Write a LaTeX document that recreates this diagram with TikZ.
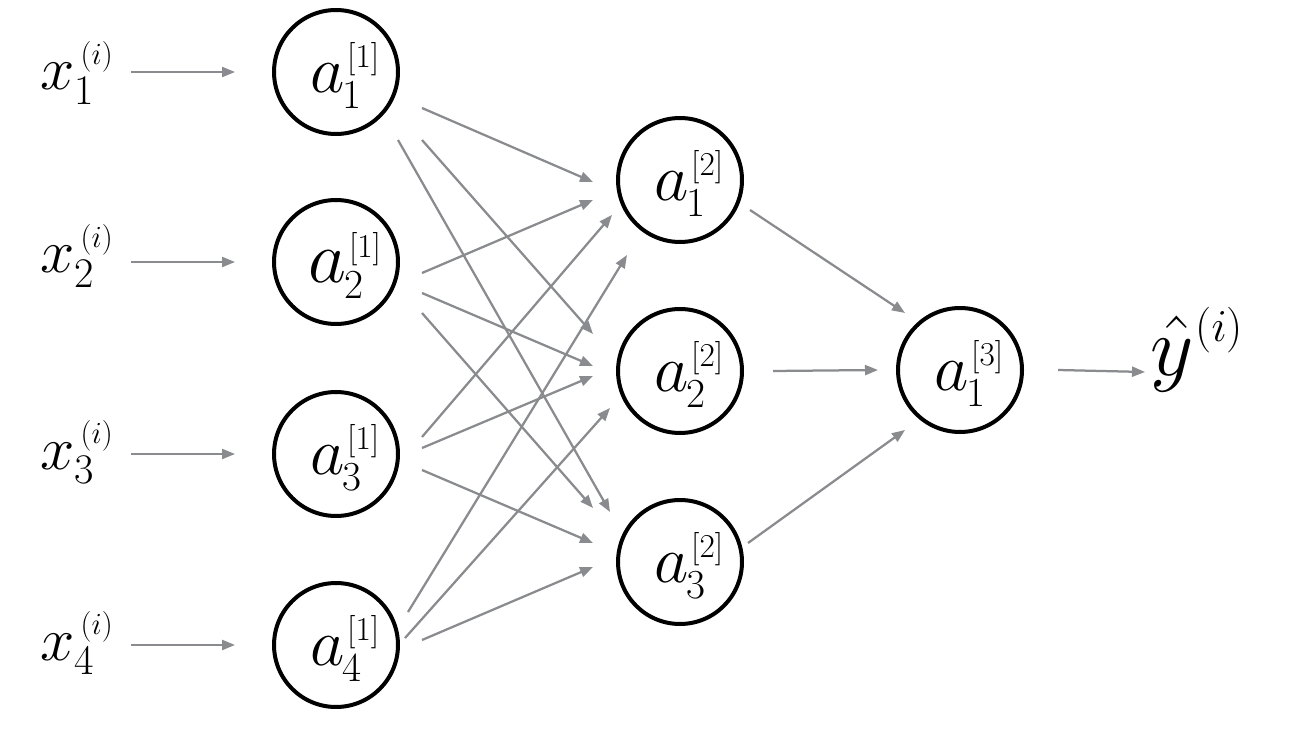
\RequirePackage{fix-cm}
\documentclass[tikz,border=0pt]{standalone}
\usepackage{fontspec}
\usetikzlibrary{arrows.meta,calc,shapes.geometric}
\definecolor{edgegray}{RGB}{137,139,142}

% neuron label: letter with subscript and bracketed superscript
\newcommand{\nlab}[4][38pt]{%
  \sbox0{\fontsize{19pt}{19pt}\selectfont #4}%
  \sbox2{\fontsize{23.5pt}{23.5pt}\selectfont #3}%
  {\fontsize{#1}{#1}\selectfont$#2$}%
  \rlap{\raisebox{14.5pt}{\kern 1.5pt\usebox0}}%
  \raisebox{-9pt}{\kern -1pt\usebox2}%
  \hspace{\dimexpr\wd0+2.5pt-\wd2\relax}}
% input label x_k^(i)
\newcommand{\xlab}[1]{%
  \sbox0{\fontsize{17.5pt}{17.5pt}\selectfont($i$)}%
  \sbox2{\fontsize{24pt}{24pt}\selectfont #1}%
  {\fontsize{35pt}{35pt}\selectfont$x$}%
  \rlap{\raisebox{14.5pt}{\kern 3.5pt\usebox0}}%
  \raisebox{-8.5pt}{\usebox2}%
  \hspace{\dimexpr\wd0+3.5pt-\wd2\relax}}

\tikzset{
  neuron/.style={circle, draw=black, line width=0.08cm, minimum size=2.48cm,
    inner sep=0pt, text height=30pt, text depth=6.2pt},
  arr/.style={draw=edgegray, line width=0.045cm, -{Triangle[length=0.26cm,width=0.2cm]}},
  inlab/.style={anchor=base west, inner sep=0pt},
}

\begin{document}
\begin{tikzpicture}[x=0.02cm,y=-0.02cm]
\fill[white] (0,0) rectangle (1300,746);
\useasboundingbox (0,0) rectangle (1300,746);

% layer 1
\node[neuron] (A1) at (336,72)  {\nlab{a}{1}{[1]}};
\node[neuron] (A2) at (336,262) {\nlab[42pt]{a}{2}{[1]}};
\node[neuron] (A3) at (336,454) {\nlab{a}{3}{[1]}};
\node[neuron] (A4) at (336,645) {\nlab{a}{4}{[1]}};
% layer 2
\node[neuron] (B1) at (680,180) {\nlab{a}{1}{[2]}};
\node[neuron] (B2) at (680,371) {\nlab{a}{2}{[2]}};
\node[neuron] (B3) at (680,562) {\nlab{a}{3}{[2]}};
% layer 3
\node[neuron] (C) at (960,370) {\nlab{a}{1}{[3]}};

% inputs
\node[inlab] (X1) at (40,90)  {\xlab{1}};
\node[inlab] (X2) at (40,273) {\xlab{2}};
\node[inlab] (X3) at (40,469) {\xlab{3}};
\node[inlab] (X4) at (40,660) {\xlab{4}};

% output
\node[inlab] (Y) at (1150,375) {\fontsize{48pt}{48pt}\selectfont$\hat{y}$%
  \kern 1pt\raisebox{19pt}{\fontsize{26pt}{26pt}\selectfont($i$)}};

% input arrows
\foreach \k in {1,...,4}{
  \draw[arr, shorten <=1.82cm, shorten >=0.74cm] (X\k.west |- A\k) -- (A\k);
}

% layer 1 -> layer 2
\draw[arr] ($(A1)+(86,36)$) -- ($(B1)+(-87,2)$);
\draw[arr] ($(A1)+(86,68)$) -- ($(B2)+(-87,-37)$);
\draw[arr] ($(A1)+(62,68)$) -- ($(B3)+(-70,-50)$);
\draw[arr] ($(A2)+(86,11)$) -- ($(B1)+(-87,20)$);
\draw[arr] ($(A2)+(86,31)$) -- ($(B2)+(-87,-5)$);
\draw[arr] ($(A2)+(86,51)$) -- ($(B3)+(-87,-54)$);
\draw[arr] ($(A3)+(86,-17)$) -- ($(B1)+(-68,35)$);
\draw[arr] ($(A3)+(86,-6)$) -- ($(B2)+(-87,5)$);
\draw[arr] ($(A3)+(86,16)$) -- ($(B3)+(-87,-19)$);
\draw[arr] ($(A4)+(72,-33)$) -- ($(B1)+(-53,75)$);
\draw[arr] ($(A4)+(69,-7)$) -- ($(B2)+(-70,37)$);
\draw[arr] ($(A4)+(86,-5)$) -- ($(B3)+(-87,5)$);

% layer 2 -> layer 3
\draw[arr] ($(B1)+(70,30)$) -- ($(C)+(-55,-57)$);
\draw[arr] ($(B2)+(93,0)$) -- ($(C)+(-82,0)$);
\draw[arr] ($(B3)+(68,-19)$) -- ($(C)+(-55,60)$);

% output arrow
\draw[arr] ($(C)+(98,0)$) -- ($(Y.base west)+(-5,-3)$);
\end{tikzpicture}
\end{document}
